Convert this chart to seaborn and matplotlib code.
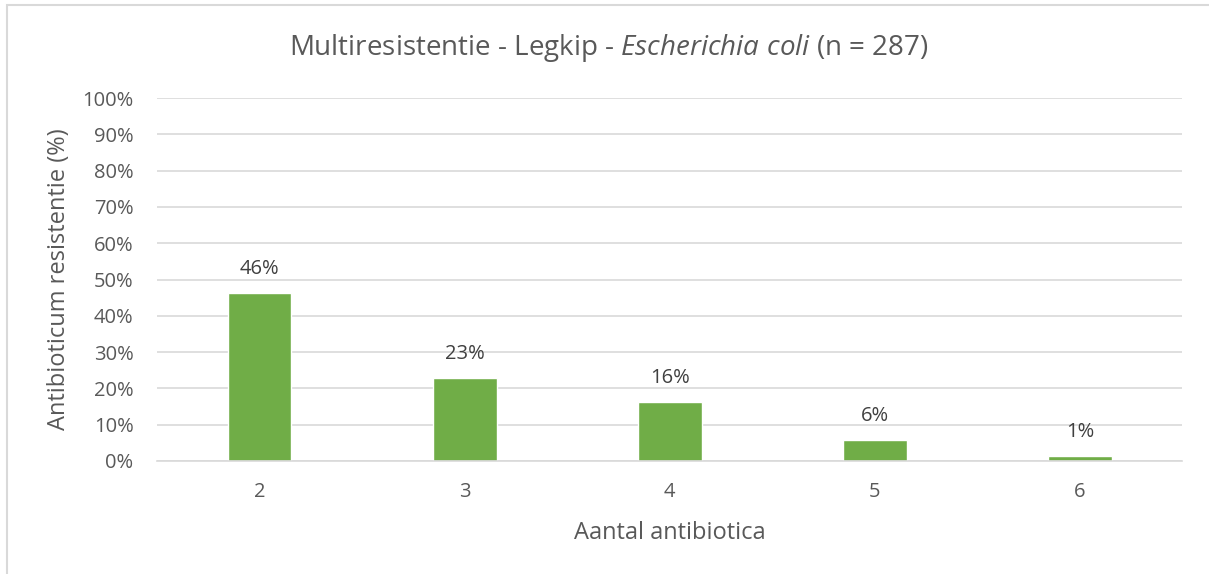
import pandas as pd
import seaborn as sns
import matplotlib.pyplot as plt
from matplotlib.patches import Rectangle
from matplotlib.ticker import PercentFormatter

# data
aantal = ["2", "3", "4", "5", "6"]
resistentie = [46.2, 22.8, 16.2, 5.8, 1.3]
labels = ["46%", "23%", "16%", "6%", "1%"]

df = pd.DataFrame({"aantal": aantal, "resistentie": resistentie})

sns.set_theme(style="white")
plt.rcParams["font.family"] = ["Open Sans", "DejaVu Sans"]
plt.rcParams["mathtext.fontset"] = "custom"
plt.rcParams["mathtext.rm"] = "Open Sans"
plt.rcParams["mathtext.it"] = "Open Sans:italic"

grijs = "#595959"

fig = plt.figure(figsize=(12.09, 5.74), dpi=100)
ax = fig.add_axes([0.130, 0.197, 0.848, 0.632])

sns.barplot(data=df, x="aantal", y="resistentie", color="#70AD47",
            width=0.31, saturation=1, ax=ax)

for p, lab in zip(ax.patches, labels):
    ax.annotate(lab, (p.get_x() + p.get_width() / 2, p.get_height()),
                xytext=(0, 10), textcoords="offset points",
                ha="center", va="bottom", fontsize=14.5, color="#404040")

ax.set_ylim(0, 100)
ax.set_xlim(-0.5, 4.5)
ax.set_yticks(range(0, 101, 10))
ax.yaxis.set_major_formatter(PercentFormatter(decimals=0))
ax.yaxis.grid(True, color="#D9D9D9", linewidth=1.2)
ax.set_axisbelow(True)
for s in ["top", "right", "left"]:
    ax.spines[s].set_visible(False)
ax.spines["bottom"].set_color("#D9D9D9")
ax.spines["bottom"].set_linewidth(1.2)
ax.tick_params(axis="both", length=0, labelsize=14.5, colors=grijs)
ax.tick_params(axis="y", pad=17)
ax.tick_params(axis="x", pad=15)

ax.set_xlabel("Aantal antibiotica", fontsize=17, color=grijs, labelpad=14)
ax.set_ylabel("Antibioticum resistentie (%)", fontsize=17, color=grijs, labelpad=8)

fig.text(0.503, 0.917,
         r"Multiresistentie - Legkip - $\mathit{Escherichia\ coli}$ (n = 287)",
         ha="center", va="center", fontsize=20, color=grijs)

# chart frame
fig.patches.append(Rectangle((7 / 1209, -0.05), 1.1, 1 - 5 / 574 + 0.05,
                             transform=fig.transFigure, fill=False,
                             edgecolor="#D9D9D9", linewidth=1.5))

fig.savefig("out.png", dpi=100)
